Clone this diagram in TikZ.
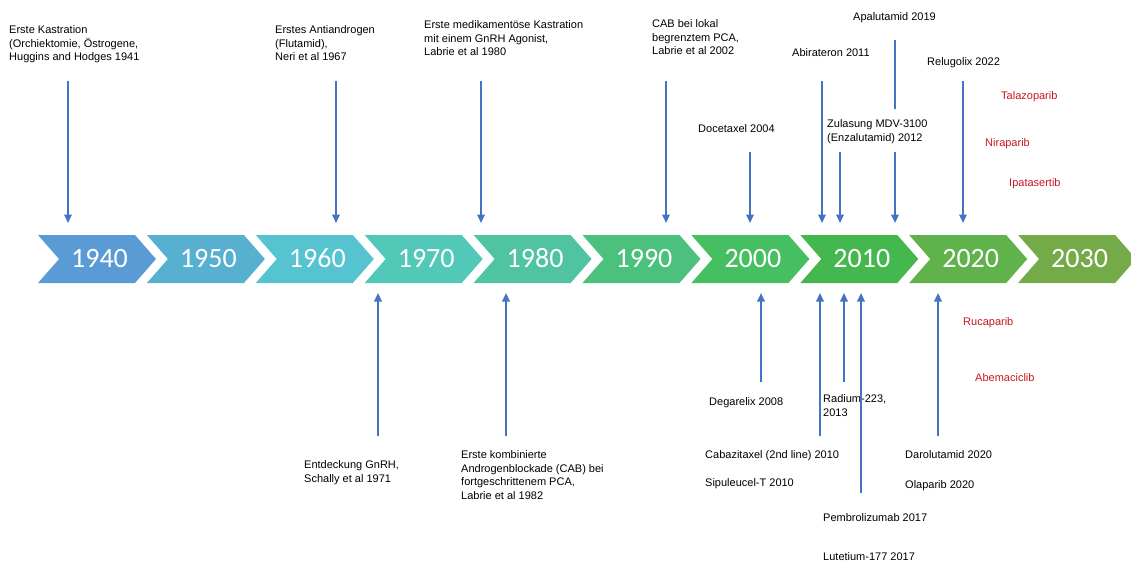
\documentclass[tikz,border=0pt]{standalone}
\usepackage{fontspec}
\setmainfont{Liberation Sans}
\newfontfamily\yearfont{Carlito}
\usetikzlibrary{arrows.meta}

\definecolor{arrowblue}{RGB}{68,114,196}
\definecolor{drugred}{RGB}{200,22,32}
\definecolor{ch1}{RGB}{91,155,213}
\definecolor{ch2}{RGB}{87,176,208}
\definecolor{ch3}{RGB}{86,196,208}
\definecolor{ch4}{RGB}{82,200,185}
\definecolor{ch5}{RGB}{80,196,160}
\definecolor{ch6}{RGB}{76,192,125}
\definecolor{ch7}{RGB}{70,190,98}
\definecolor{ch8}{RGB}{68,184,78}
\definecolor{ch9}{RGB}{96,178,74}
\definecolor{ch10}{RGB}{117,170,72}

\begin{document}
\begin{tikzpicture}[x=1pt,y=-1pt,
  lbl/.style={anchor=north west, inner sep=0pt, align=left,
    font=\fontsize{11}{13.5}\selectfont},
  redlbl/.style={lbl, text=drugred},
  yr/.style={text=white, inner sep=0pt, anchor=base,
    font=\yearfont\fontsize{28}{28}\selectfont},
  arr/.style={draw=arrowblue, line width=2pt, -{Triangle[length=8.5pt,width=7.5pt]}},
  stem/.style={draw=arrowblue, line width=2pt}]
\useasboundingbox (0,0) rectangle (1131,563);
\clip (0,0) rectangle (1131,563);

% decade chevrons
\foreach \i/\c/\yr in {0/ch1/1940,1/ch2/1950,2/ch3/1960,3/ch4/1970,4/ch5/1980,
                       5/ch6/1990,6/ch7/2000,7/ch8/2010,8/ch9/2020,9/ch10/2030}{
  \pgfmathsetmacro\L{38+108.9*\i}
  \fill[\c] (\L,235) -- (\L+97,235) -- (\L+118,259) -- (\L+97,283)
            -- (\L,283) -- (\L+21,259) -- cycle;
  \node[yr] (y\yr) at (\L+61.5,267) {\yr};
}

% reference lines for arrow tips
\coordinate (bartop) at (0,223);
\coordinate (barbot) at (0,293);

% events above the timeline
\node[lbl] (kastr) at (9,25.5) {Erste Kastration\\(Orchiektomie, Östrogene,\\Huggins and Hodges 1941};
\node[lbl] (anti) at (275,25.5) {Erstes Antiandrogen\\(Flutamid),\\Neri et al 1967};
\node[lbl] (medi) at (424,20.5) {Erste medikamentöse Kastration\\mit einem GnRH Agonist,\\Labrie et al 1980};
\node[lbl] (cab) at (652,19.5) {CAB bei lokal\\begrenztem PCA,\\Labrie et al 2002};
\node[lbl] (doce) at (698,124.5) {Docetaxel 2004};
\node[lbl] (abi) at (792,48.5) {Abirateron 2011};
\node[lbl] (apa) at (853,12.5) {Apalutamid 2019};
\node[lbl] (relu) at (927,57.5) {Relugolix 2022};
\node[lbl] (zula) at (827,119.5) {Zulasung MDV-3100\\(Enzalutamid) 2012};
\node[redlbl] (tala) at (1001,91.5) {Talazoparib};
\node[redlbl] (nira) at (985,138.5) {Niraparib};
\node[redlbl] (ipa) at (1009,178.5) {Ipatasertib};

\coordinate (kastrA) at (68,81);
\coordinate (antiA) at (336,81);
\coordinate (mediA) at (481,81);
\coordinate (cabA) at (666,81);
\coordinate (doceA) at (750,152);
\coordinate (abiA) at (822,81);
\coordinate (zulaA) at (840,152);
\coordinate (apaS) at (895,40);
\coordinate (apaE) at (895,109);
\coordinate (apaA) at (895,152);
\coordinate (reluA) at (963,81);

\foreach \a in {kastrA,antiA,mediA,cabA,doceA,abiA,zulaA,apaA,reluA}
  \draw[arr] (\a) -- (\a |- bartop);
\draw[stem] (apaS) -- (apaE);

% events below the timeline
\node[lbl] (gnrh) at (304,460.5) {Entdeckung GnRH,\\Schally et al 1971};
\node[lbl] (komb) at (461,450.5) {Erste kombinierte\\Androgenblockade (CAB) bei\\fortgeschrittenem PCA,\\Labrie et al 1982};
\node[lbl] (dega) at (709,397.5) {Degarelix 2008};
\node[lbl] (cabazi) at (705,450.5) {Cabazitaxel (2nd line) 2010};
\node[lbl] (sipu) at (705,478.5) {Sipuleucel-T 2010};
\node[lbl] (radium) at (823,394.5) {Radium-223,\\2013};
\node[lbl] (pembro) at (823,513.5) {Pembrolizumab 2017};
\node[lbl] (lute) at (823,552.5) {Lutetium-177 2017};
\node[lbl] (daro) at (905,450.5) {Darolutamid 2020};
\node[lbl] (ola) at (905,480.5) {Olaparib 2020};
\node[redlbl] (ruca) at (963,317.5) {Rucaparib};
\node[redlbl] (abema) at (975,373.5) {Abemaciclib};

\coordinate (gnrhA) at (378,436);
\coordinate (kombA) at (506,436);
\coordinate (degaA) at (761,382);
\coordinate (cabaziA) at (820,436);
\coordinate (radiumA) at (844,382);
\coordinate (pembroA) at (861,493);
\coordinate (daroA) at (938,436);

\foreach \a in {gnrhA,kombA,degaA,cabaziA,radiumA,pembroA,daroA}
  \draw[arr] (\a) -- (\a |- barbot);
\end{tikzpicture}
\end{document}
